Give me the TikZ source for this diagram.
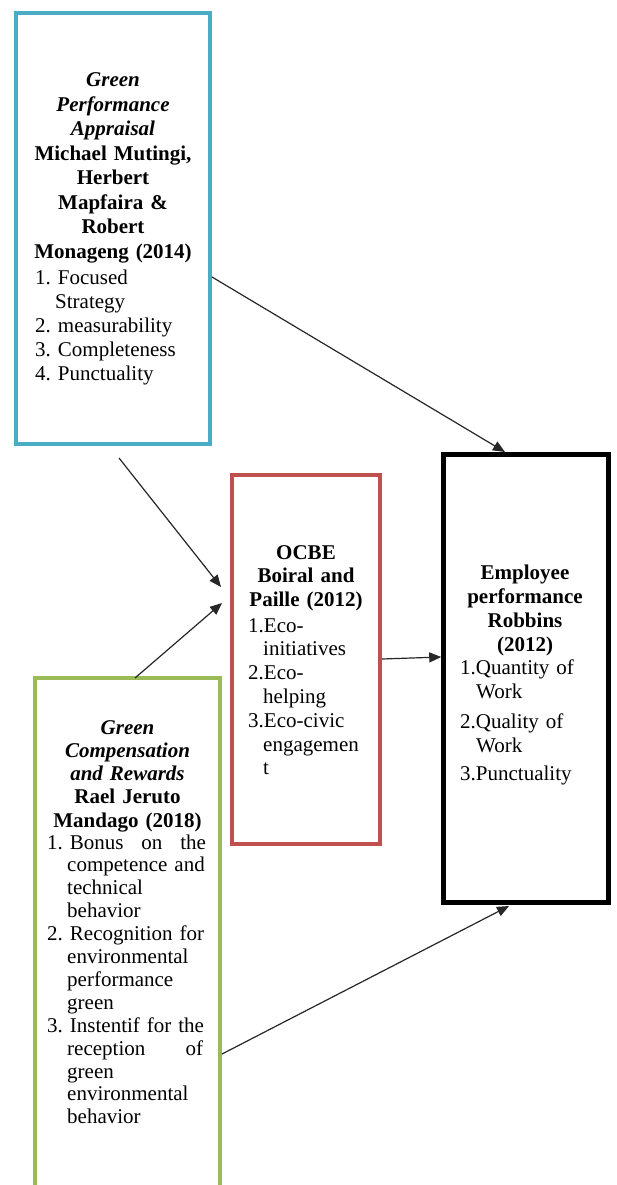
\documentclass[tikz,border=0pt]{standalone}
\usepackage{fontspec}
\setmainfont{Liberation Serif}
\usetikzlibrary{arrows.meta}
\definecolor{boxblue}{HTML}{4BACC6}
\definecolor{boxred}{HTML}{C0504D}
\definecolor{boxgreen}{HTML}{9BBB59}
\frenchspacing
\tikzset{
  frame/.style={draw, rectangle, inner sep=0pt, fill=none},
  titletext/.style={anchor=base, align=center, inner sep=0pt, font=\fontsize{21}{24.5}\selectfont\bfseries},
  listtext/.style={anchor=base west, align=left, inner sep=0pt, text width=180pt, font=\fontsize{21}{24.2}\selectfont},
  link/.style={draw=black!85, line width=1.2pt, -{Triangle[length=12pt,width=10pt]}},
}
\begin{document}
\begin{tikzpicture}[x=1pt, y=-1pt]
\useasboundingbox (0,0) rectangle (616,1185);
\begin{scope}
\clip (0,0) rectangle (616,1185);
% boxes
\node[frame, draw=boxblue, line width=4pt, minimum width=194pt, minimum height=431pt] (gpa) at (113,228.5) {};
\node[frame, draw=boxred, line width=4pt, minimum width=148pt, minimum height=369pt] (ocbe) at (306,659.5) {};
\node[frame, draw=black, line width=4.5pt, minimum width=165pt, minimum height=448pt] (emp) at (526,678.5) {};
\node[frame, draw=boxgreen, line width=4pt, minimum width=185pt, minimum height=517pt] (gcr) at (127.5,936.5) {};
\end{scope}
% texts
\node[titletext, text width=190pt] (gpaT) at (113,87) {{\itshape Green\\Performance\\Appraisal}\\Michael Mutingi,\\Herbert\\Mapfaira \&\\Robert\\Monageng (2014)};
\node[listtext] (gpaL) at (35,284) {1.\hspace{7pt}Focused\\\hspace*{20pt}Strategy\\2. measurability\\3. Completeness\\4. Punctuality};
\node[titletext, text width=145pt, font=\fontsize{21}{23.5}\selectfont\bfseries] (ocbeT) at (306,559) {OCBE\\Boiral and\\Paille (2012)};
\node[listtext, text width=130pt, font=\fontsize{21}{23.8}\selectfont] (ocbeL) at (248,632) {1.Eco-\\\hspace*{15pt}initiatives\\2.Eco-\\\hspace*{15pt}helping\\3.Eco-civic\\\hspace*{15pt}engagemen\\\hspace*{15pt}t};
\node[titletext, text width=160pt, font=\fontsize{21}{24.2}\selectfont\bfseries] (empT) at (525,579) {Employee\\performance\\Robbins\\(2012)};
\node[listtext, text width=145pt, font=\fontsize{21}{24.2}\selectfont] (empL) at (460,674) {1.Quantity of\\\hspace*{16pt}Work\\[6pt]2.Quality of\\\hspace*{16pt}Work\\[4pt]3.Punctuality};
\node[titletext, text width=185pt, font=\fontsize{21}{23.25}\selectfont\bfseries] (gcrT) at (127.5,734) {{\itshape Green\\Compensation\\and Rewards}\\Rael Jeruto\\Mandago (2018)};
\node[listtext, text width=170pt, font=\fontsize{21}{22.9}\selectfont] (gcrL) at (47,849) {1. \makebox[136pt][l]{Bonus\hfill on\hfill the}\\\hspace*{20pt}competence and\\\hspace*{20pt}technical\\\hspace*{20pt}behavior\\2. Recognition for\\\hspace*{20pt}environmental\\\hspace*{20pt}performance\\\hspace*{20pt}green\\3. Instentif for the\\\hspace*{20pt}\makebox[136pt][l]{reception\hfill of}\\\hspace*{20pt}green\\\hspace*{20pt}environmental\\\hspace*{20pt}behavior};
% connector end points
\coordinate (a1s) at (gpa.east |- 0,277);
\coordinate (a1e) at (505,452);
\coordinate (a2s) at (119,458);
\coordinate (a2e) at (221,587);
\coordinate (a3s) at (135,678);
\coordinate (a3e) at (222,603);
\coordinate (a4s) at (ocbe.east |- 0,659);
\coordinate (a4e) at (emp.west |- 0,657);
\coordinate (a5s) at (gcr.east |- 0,1054);
\coordinate (a5e) at (509,906);
% connectors
\draw[link] (a1s) -- (a1e);
\draw[link] (a2s) -- (a2e);
\draw[link] (a3s) -- (a3e);
\draw[link] (a4s) -- (a4e);
\draw[link] (a5s) -- (a5e);
\end{tikzpicture}
\end{document}
